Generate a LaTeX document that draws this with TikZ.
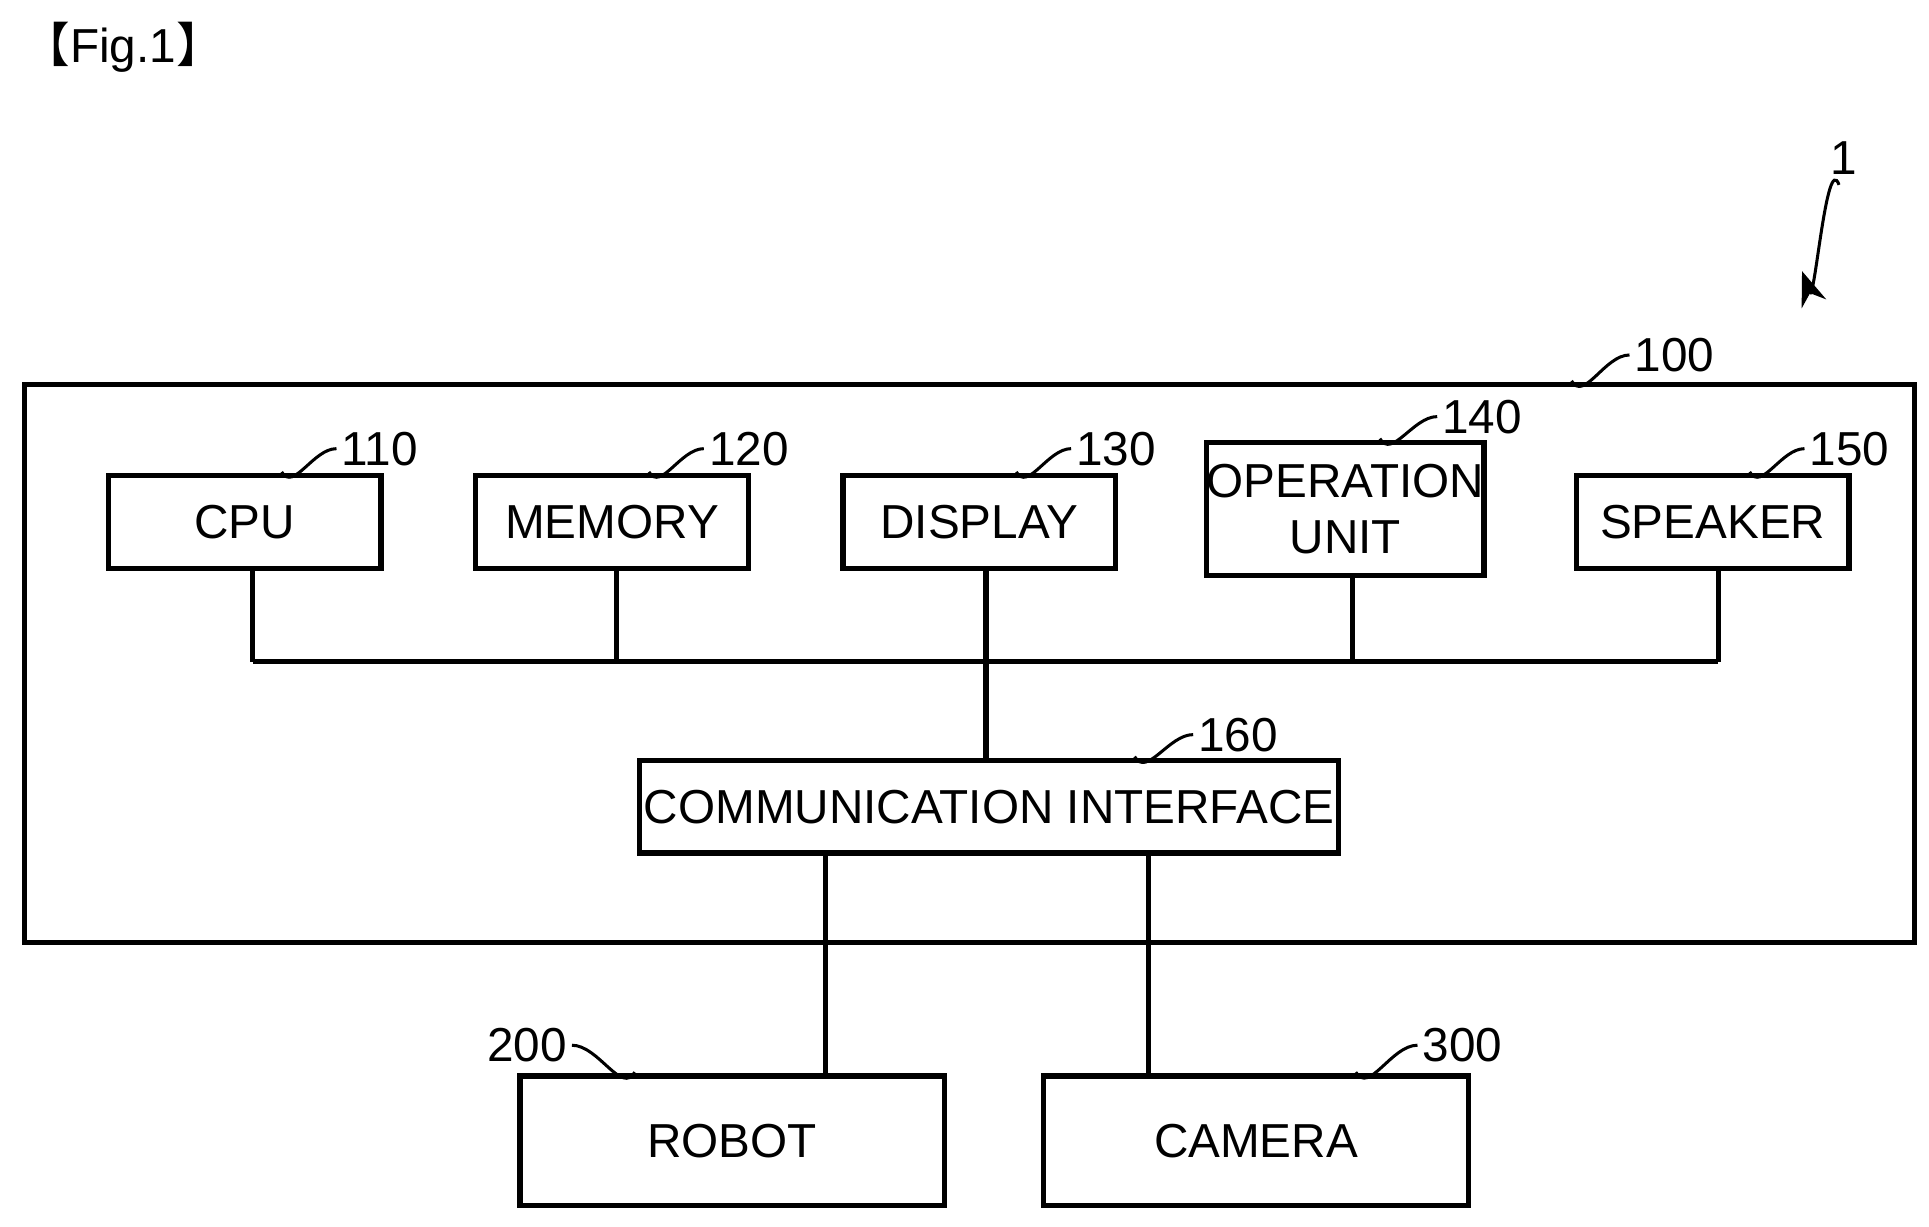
\documentclass[tikz,border=0pt]{standalone}
\usepackage{fontspec}
\setmainfont{Liberation Sans}
\newfontfamily\cjkfont{Noto Sans CJK JP}
\usetikzlibrary{arrows.meta, calc}

\tikzset{
  blk/.style={draw, line width=1.2pt, inner sep=0pt, font=\fontsize{11}{13}\selectfont, align=center},
  bus/.style={line width=1.2pt},
  lead/.style={line width=0.7pt},
  num/.style={font=\fontsize{11}{13}\selectfont, inner sep=1pt}
}

\begin{document}
\begin{tikzpicture}[x=0.01cm,y=-0.01cm]
  \useasboundingbox (0,0) rectangle (1565,995);

  \node[num, anchor=west] (fig) at (14,38) {{\cjkfont 【}Fig.1{\cjkfont 】}};

  % system 1
  \node[num] (n1) at (1496,128) {1};
  \coordinate (a1s) at (1492,150);
  \coordinate (a1e) at (1462,220);
  \draw[lead,-{Stealth[length=8pt]}] (a1s) to[out=110,in=-70] (a1e);

  % controller 100
  \node[blk, minimum width=15.32cm, minimum height=4.52cm, anchor=north west] (ctl) at (18,310) {};
  \node[num, anchor=west] (n100) at (1322,288) {100};
  \draw[lead] (1275,309) to[out=-60,in=180] (n100.west);

  % units
  \node[blk, minimum width=2.21cm, minimum height=0.75cm] (cpu) at (198.5,423.5) {CPU};
  \node[blk, minimum width=2.21cm, minimum height=0.75cm] (mem) at (496.5,423.5) {MEMORY};
  \node[blk, minimum width=2.21cm, minimum height=0.75cm] (disp) at (794.5,423.5) {DISPLAY};
  \node[blk, minimum width=2.21cm, minimum height=1.08cm] (op) at (1091.5,413) {OPERATION\\UNIT};
  \node[blk, minimum width=2.21cm, minimum height=0.75cm] (spk) at (1389.5,423.5) {SPEAKER};
  \node[blk, minimum width=5.67cm, minimum height=0.75cm] (comm) at (802.5,654.5) {COMMUNICATION INTERFACE};

  \node[num, anchor=west] (n110) at (273,364) {110};
  \node[num, anchor=west] (n120) at (571,364) {120};
  \node[num, anchor=west] (n130) at (869,364) {130};
  \node[num, anchor=west] (n140) at (1166,338) {140};
  \node[num, anchor=west] (n150) at (1464,364) {150};
  \node[num, anchor=west] (n160) at (968,596) {160};
  \draw[lead] ($(cpu.north)+(30,-1)$) to[out=-60,in=180] (n110.west);
  \draw[lead] ($(mem.north)+(30,-1)$) to[out=-60,in=180] (n120.west);
  \draw[lead] ($(disp.north)+(30,-1)$) to[out=-60,in=180] (n130.west);
  \draw[lead] ($(op.north)+(28,-1)$) to[out=-60,in=180] (n140.west);
  \draw[lead] ($(spk.north)+(30,-1)$) to[out=-60,in=180] (n150.west);
  \draw[lead] ($(comm.north)+(118,-1)$) to[out=-60,in=180] (n160.west);

  % bus
  \coordinate (bl) at (205,537);
  \coordinate (br) at (1394,537);
  \draw[bus] (bl) -- (br);
  \draw[bus] (cpu.south -| bl) -- (bl);
  \draw[bus] (mem.south -| 500,0) -- (500,537);
  \draw[bus] (disp.south -| 800,0) -- (comm.north -| 800,0);
  \draw[bus] (op.south -| 1097,0) -- (1097,537);
  \draw[bus] (spk.south -| br) -- (br);

  % external devices
  \node[blk, minimum width=3.44cm, minimum height=1.05cm] (robot) at (594,925.5) {ROBOT};
  \node[blk, minimum width=3.44cm, minimum height=1.05cm] (cam) at (1019,925.5) {CAMERA};
  \draw[bus] (comm.south -| 670,0) -- (robot.north -| 670,0);
  \draw[bus] (comm.south -| 932,0) -- (cam.north -| 932,0);

  \node[num, anchor=east] (n200) at (464,848) {200};
  \node[num, anchor=west] (n300) at (1150,848) {300};
  \draw[lead] (n200.east) to[out=0,in=-120] ($(robot.north)+(-79,-1)$);
  \draw[lead] ($(cam.north)+(81,-1)$) to[out=-60,in=180] (n300.west);
\end{tikzpicture}
\end{document}
